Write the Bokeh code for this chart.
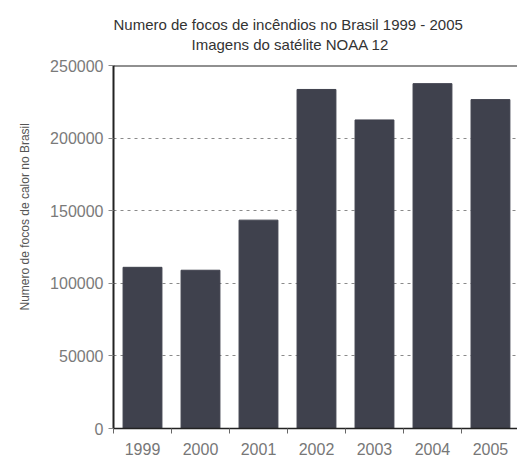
import math
from bokeh.plotting import figure
from bokeh.models import Range1d, FixedTicker, Span, Title, NumeralTickFormatter
from bokeh.embed import file_html
from bokeh.resources import INLINE

years = [1999, 2000, 2001, 2002, 2003, 2004, 2005]
focos = [111000, 109000, 143500, 233500, 212500, 237500, 226500]
y_ticks = [0, 50000, 100000, 150000, 200000, 250000]
grid_ticks = [50000, 100000, 150000, 200000]
title_lines = ["Numero de focos de incêndios no Brasil 1999 - 2005",
               "Imagens do satélite NOAA 12"]
y_title = "Numero de focos de calor no Brasil"

FONT = "Liberation Sans"
X0, X1 = 1998.5, 2005.466
Y1 = 250000

p = figure(width=517, height=463, output_backend="svg", toolbar_location=None,
           x_range=Range1d(X0, X1), y_range=Range1d(0, Y1),
           min_border_left=113, min_border_right=0, min_border_top=65,
           min_border_bottom=35)
p.background_fill_color = "white"
p.border_fill_color = "white"
p.outline_line_color = None

p.vbar(x=years, top=focos, width=0.67, fill_color="#3f414d", line_color="#3f414d")

# x axis
p.xaxis.ticker = FixedTicker(ticks=years, minor_ticks=[y - 0.5 for y in years] + [years[-1] + 0.5])
p.xaxis.major_tick_out = 0
p.xaxis.major_tick_in = 0
p.xaxis.minor_tick_out = 5
p.xaxis.minor_tick_in = 0
p.xaxis.minor_tick_line_color = "#666666"
p.xaxis.axis_line_color = "#222222"
p.xaxis.axis_line_width = 1.5
p.xaxis.major_label_text_font = FONT
p.xaxis.major_label_text_font_size = "16px"
p.xaxis.major_label_text_color = "#777777"
p.xaxis.major_label_standoff = 9

# y axis
p.yaxis.ticker = FixedTicker(ticks=y_ticks, minor_ticks=[])
p.yaxis.formatter = NumeralTickFormatter(format="0")
p.yaxis.major_tick_out = 5
p.yaxis.major_tick_in = 0
p.yaxis.major_tick_line_color = "#888888"
p.yaxis.axis_line_color = "#222222"
p.yaxis.axis_line_width = 2
p.yaxis.major_label_text_font = FONT
p.yaxis.major_label_text_font_size = "16px"
p.yaxis.major_label_text_color = "#7a7a7a"
p.yaxis.major_label_standoff = 5

# grid
p.xgrid.visible = False
p.ygrid.ticker = FixedTicker(ticks=grid_ticks, minor_ticks=[])
p.ygrid.grid_line_color = "#8a8a8a"
p.ygrid.grid_line_dash = "3 4"
p.ygrid.grid_line_width = 1

# top border line
p.add_layout(Span(location=Y1, dimension="width", line_color="#222222", line_width=2))

# titles (a tiny spacer keeps the two lines clear of the frame)
p.add_layout(Title(text=" ", standoff=9, text_font=FONT, text_font_size="1px",
                   text_color="white"), "above")
p.add_layout(Title(text=title_lines[1], align="left", offset=78, standoff=1,
                   text_font=FONT, text_font_size="15px", text_font_style="normal",
                   text_color="#333333"), "above")
p.add_layout(Title(text=title_lines[0], align="left", offset=0, standoff=2,
                   text_font=FONT, text_font_size="15px", text_font_style="normal",
                   text_color="#333333"), "above")

# y-axis title
p.add_layout(Title(text=y_title, align="left", offset=118, standoff=31,
                   text_font=FONT, text_font_size="12px", text_font_style="normal",
                   text_color="#555555"), "left")

open("out.html", "w").write(file_html(p, INLINE))
